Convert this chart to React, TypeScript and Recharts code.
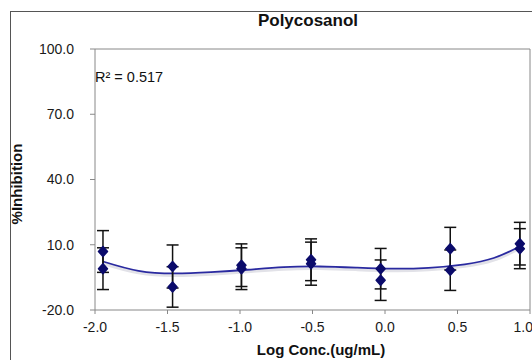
import React from 'react';
import {
  ComposedChart,
  Scatter,
  Line,
  XAxis,
  YAxis,
  ErrorBar,
  ReferenceLine,
} from 'recharts';

// log concentration of each dose (x)
const logConc = [-1.945, -1.465, -0.99, -0.51, -0.03, 0.45, 0.93];
// two replicate series of %inhibition with their error bars
const rep1 = [6.9, 0.0, 0.6, 3.1, -1.0, 8.2, 10.5];
const err1 = [9.6, 9.9, 9.8, 9.6, 9.3, 9.8, 9.8];
const rep2 = [-1.0, -9.4, -1.0, 1.3, -6.3, -1.7, 8.2];
const err2 = [9.6, 9.3, 9.6, 9.9, 9.3, 9.3, 9.2];

// fitted curve
const fitX = [-1.945, -1.7, -1.45, -1.2, -0.95, -0.7, -0.45, -0.2, 0.05, 0.3, 0.55, 0.75, 0.93];
const fitY = [2.3, -2.0, -3.2, -2.6, -1.5, -0.3, 0.0, -0.5, -1.0, -0.6, 1.0, 3.9, 9.2];

const xTicks = [-2, -1.5, -1, -0.5, 0, 0.5, 1];
const yTicks = [-20, 10, 40, 70, 100];

const points = [
  ...logConc.map((x, i) => ({ x, y: rep1[i], err: err1[i] })),
  ...logConc.map((x, i) => ({ x, y: rep2[i], err: err2[i] })),
];
const fit = fitX.map((x, i) => ({ x, y: fitY[i] }));

const FONT = '"Liberation Sans", Arial, sans-serif';

const Diamond = (props: any) => {
  const { cx, cy } = props;
  if (cx == null || cy == null) return null;
  return (
    <path
      d={`M${cx},${cy - 5} L${cx + 4.5},${cy} L${cx},${cy + 5} L${cx - 4.5},${cy} Z`}
      fill="#0b0b6b"
      stroke="#0b0b6b"
      strokeWidth={1.5}
      strokeLinejoin="round"
    />
  );
};

export default function App() {
  return (
    <div
      style={{
        position: 'fixed',
        left: 0,
        top: 0,
        width: 532,
        height: 360,
        overflow: 'hidden',
        background: '#fff',
        fontFamily: FONT,
      }}
    >
      <style>{`.fit-shadow path { transform: translateY(2px); }`}</style>
      <div
        style={{
          position: 'absolute',
          left: 10,
          top: 11,
          width: 560,
          height: 400,
          border: '1.5px solid #555',
        }}
      />
      <ComposedChart
        width={532}
        height={360}
        margin={{ top: 49, right: 2, bottom: 0, left: 0 }}
        style={{ position: 'absolute', left: 0, top: 0 }}
      >
        <XAxis
          dataKey="x"
          type="number"
          domain={[-2, 1]}
          ticks={xTicks}
          tickFormatter={(v: number) => v.toFixed(1)}
          allowDataOverflow
          height={50}
          tickSize={4}
          tickMargin={8}
          stroke="#888"
          tick={{ fill: '#1a1a1a', fontSize: 14, fontFamily: FONT }}
        />
        <YAxis
          type="number"
          domain={[-20, 100]}
          ticks={yTicks}
          tickFormatter={(v: number) => v.toFixed(1)}
          width={95}
          tickSize={5}
          tickMargin={16}
          stroke="#888"
          tick={{ fill: '#1a1a1a', fontSize: 14, fontFamily: FONT }}
        />
        <ReferenceLine y={100} stroke="#888" />
        <ReferenceLine x={1} stroke="#888" />
        <Line
          data={fit}
          dataKey="y"
          type="natural"
          className="fit-shadow"
          stroke="#e2e2e8"
          strokeWidth={3}
          dot={false}
          activeDot={false}
          isAnimationActive={false}
        />
        <Line
          data={fit}
          dataKey="y"
          type="natural"
          stroke="#2a2aa0"
          strokeWidth={1.8}
          dot={false}
          activeDot={false}
          isAnimationActive={false}
        />
        <Scatter data={points} dataKey="y" shape={<Diamond />} isAnimationActive={false}>
          <ErrorBar dataKey="err" direction="y" width={6} stroke="#111" strokeWidth={1.5} />
        </Scatter>
      </ComposedChart>
      <div
        style={{
          position: 'absolute',
          left: 95,
          top: 68,
          fontSize: 14.5,
          lineHeight: '18px',
          color: '#111',
        }}
      >
        R² = 0.517
      </div>
      <div
        style={{
          position: 'absolute',
          left: 208,
          width: 200,
          top: 10,
          lineHeight: '22px',
          textAlign: 'center',
          fontSize: 17,
          fontWeight: 'bold',
          color: '#111',
        }}
      >
        Polycosanol
      </div>
      <div
        style={{
          position: 'absolute',
          left: 221,
          width: 200,
          top: 340,
          lineHeight: '19px',
          textAlign: 'center',
          fontSize: 15,
          fontWeight: 'bold',
          color: '#111',
        }}
      >
        Log Conc.(ug/mL)
      </div>
      <div
        style={{
          position: 'absolute',
          left: 17 - 60,
          width: 120,
          top: 184 - 10,
          lineHeight: '20px',
          textAlign: 'center',
          fontSize: 15,
          fontWeight: 'bold',
          color: '#111',
          transform: 'rotate(-90deg)',
        }}
      >
        %Inhibition
      </div>
    </div>
  );
}
